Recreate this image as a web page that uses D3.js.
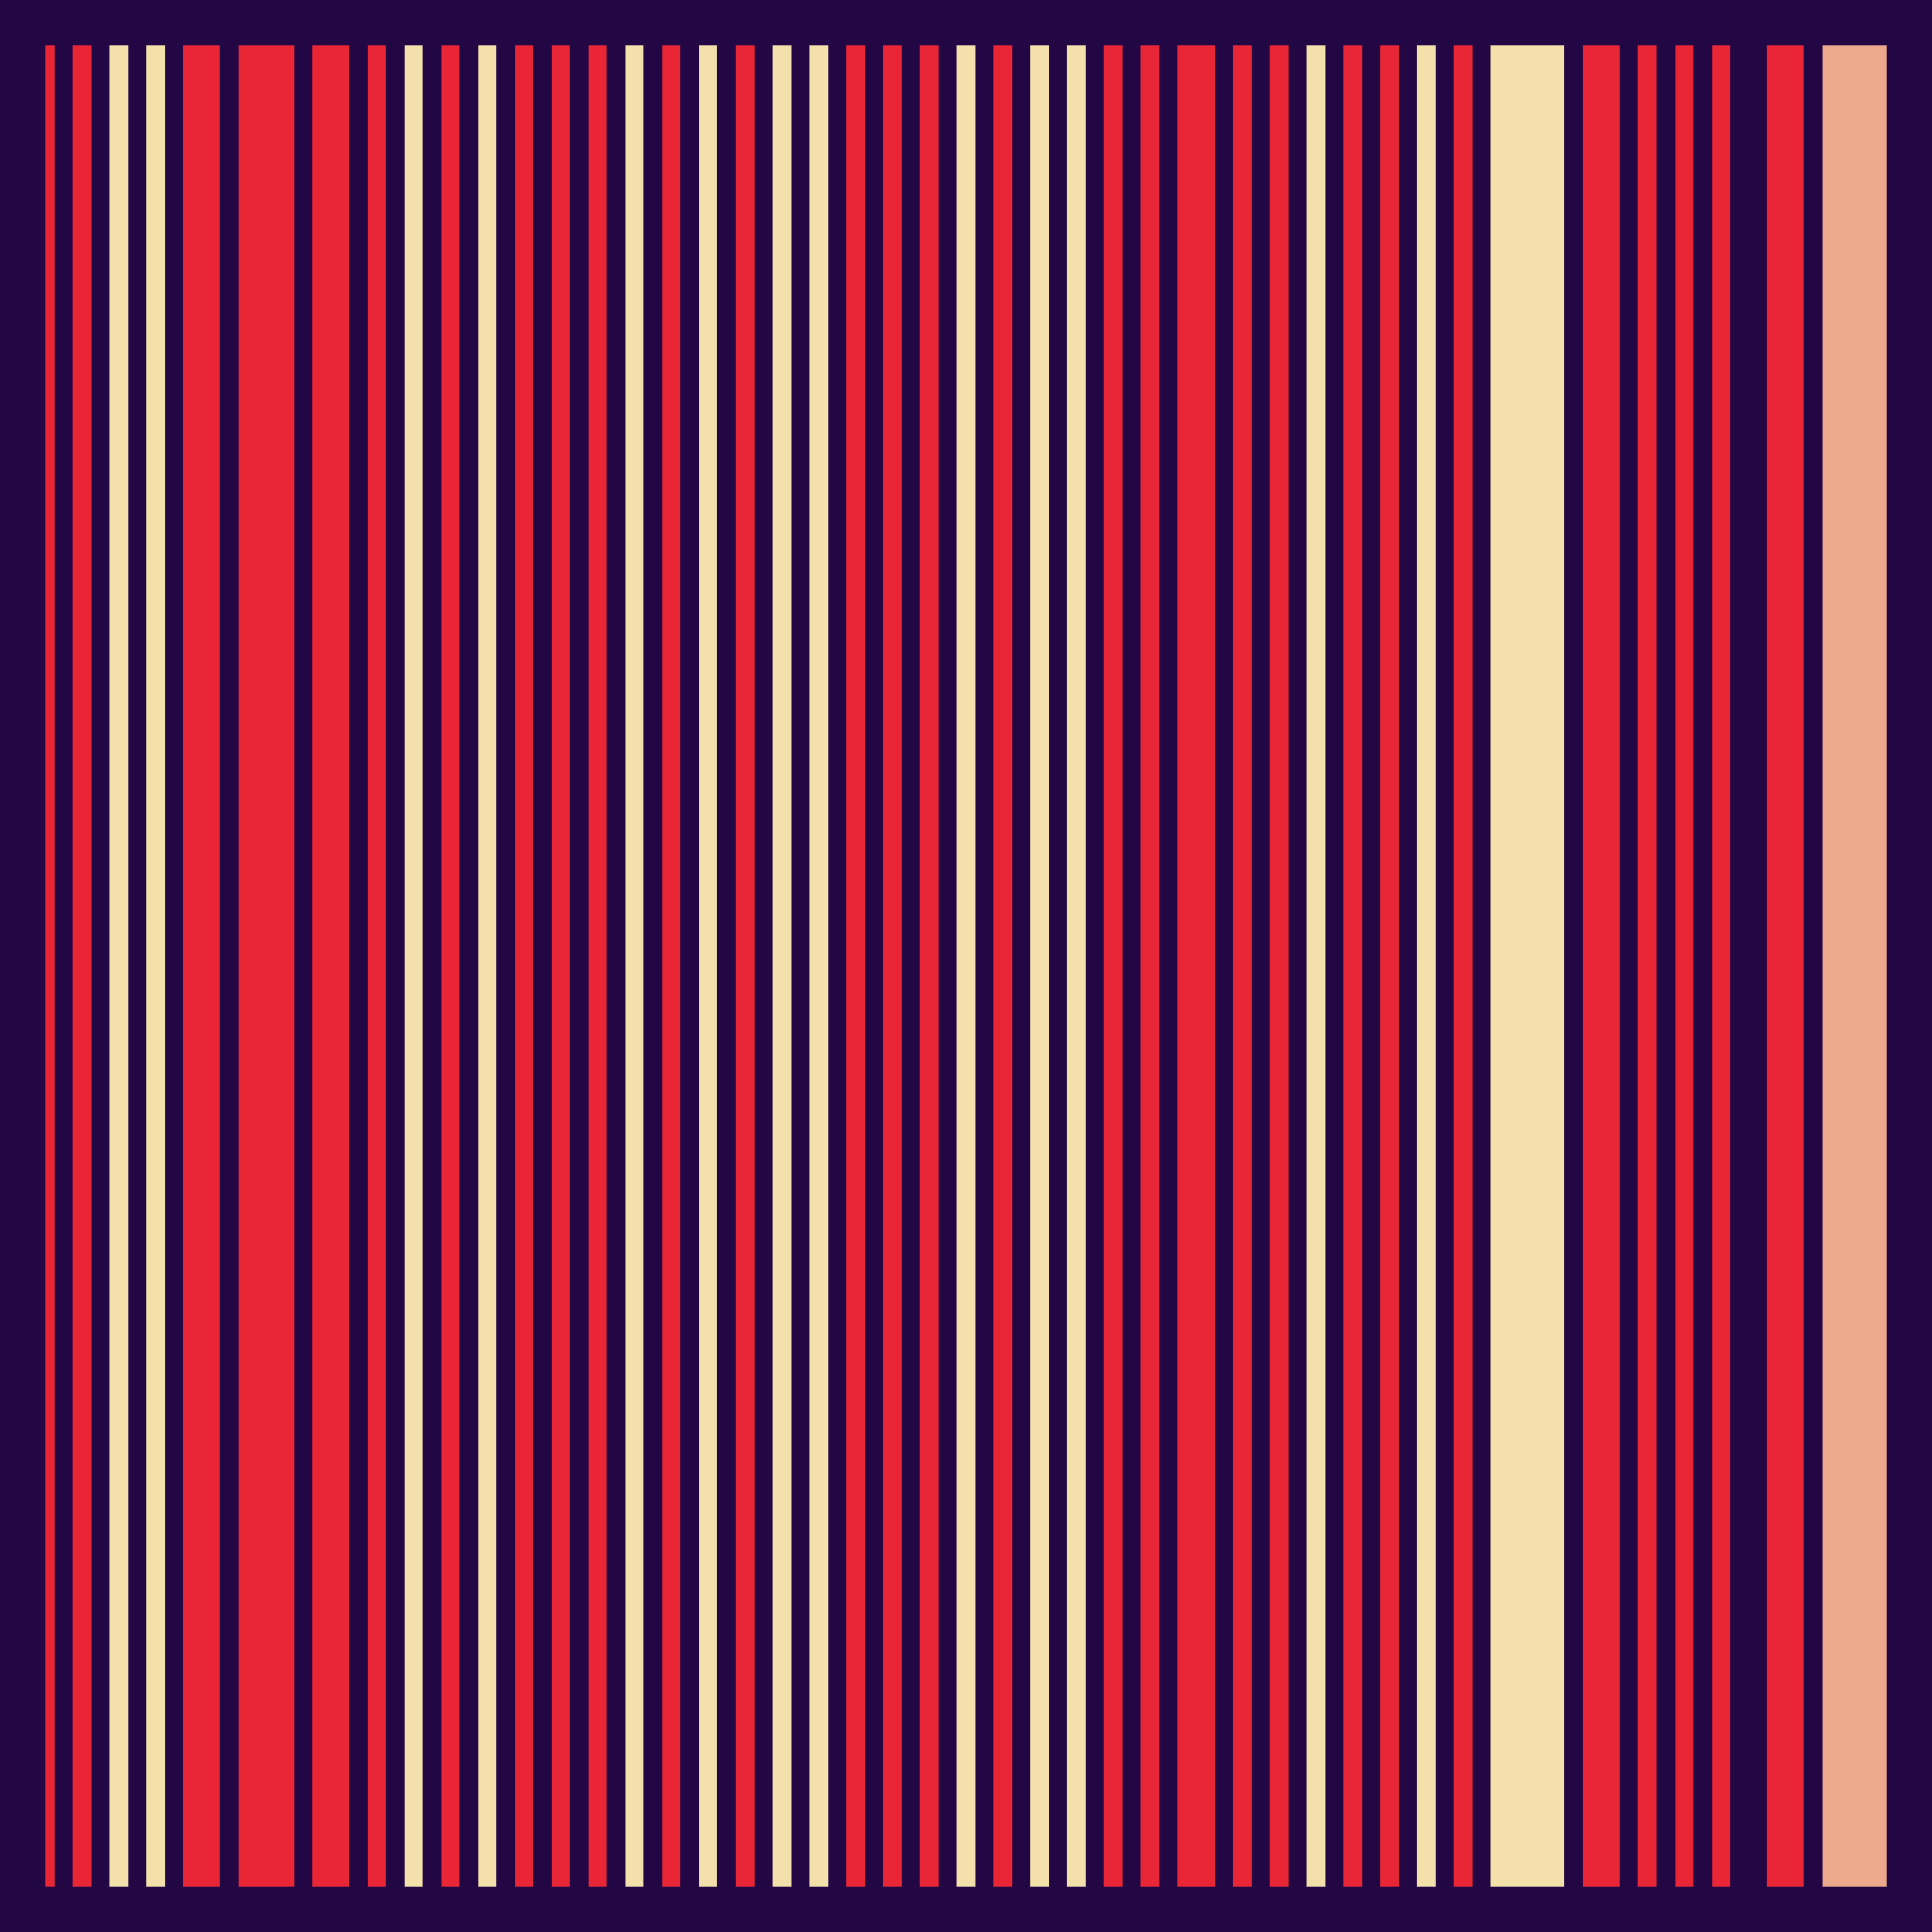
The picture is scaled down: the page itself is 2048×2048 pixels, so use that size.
<!DOCTYPE html>
<html>
<head>
<meta charset="utf-8">
<script src="https://cdn.jsdelivr.net/npm/d3@7"></script>
<style>
  html, body { margin: 0; padding: 0; background: #230745; }
  svg { display: block; }
</style>
</head>
<body>
<script>
var width = 2048, height = 2048, margin = 48;

// bar widths in units, one unit of gap between neighbours
var values = [0.5, 1, 1, 1, 2, 3, 2, 1, 1, 1,
              1, 1, 1, 1, 1, 1, 1, 1, 1, 1,
              1, 1, 1, 1, 1, 1, 1, 1, 1, 2,
              1, 1, 1, 1, 1, 1, 1, 4, 2, 1,
              1, 1, 0, 2, 3.5];
var groups = ["a", "a", "b", "b", "a", "a", "a", "a", "b", "a",
              "b", "a", "a", "a", "b", "a", "b", "a", "b", "b",
              "a", "a", "a", "b", "a", "b", "b", "a", "a", "a",
              "a", "a", "b", "a", "a", "b", "a", "b", "a", "a",
              "a", "a", "d", "a", "c"];
var categories = ["a", "b", "c", "d"];
var palette = ["#e82635", "#f4e0ab", "#eda98c", "#230745"];
var gap = 1;

var colors = d3.scaleOrdinal().domain(categories).range(palette);

var data = [];
var pos = 0;
values.forEach(function(v, i) {
    data.push({start: pos, value: v, group: groups[i]});
    pos += v + gap;
});
var total = pos - gap;

var x = d3.scaleLinear().domain([0, total]).range([margin, width - margin]);
var y = d3.scaleLinear().domain([0, 1]).range([height - margin, margin]);

var svg = d3.select("body").append("svg")
    .attr("width", width).attr("height", height)
    .style("background", "#230745");

svg.append("rect").attr("width", width).attr("height", height).attr("fill", "#230745");

svg.append("g").selectAll("rect").data(data)
    .enter().append("rect")
    .attr("x", function(d) { return x(d.start); })
    .attr("width", function(d) { return x(d.start + d.value) - x(d.start); })
    .attr("y", y(1))
    .attr("height", y(0) - y(1))
    .attr("fill", function(d) { return colors(d.group); })
    .attr("shape-rendering", "crispEdges");
</script>
</body>
</html>
